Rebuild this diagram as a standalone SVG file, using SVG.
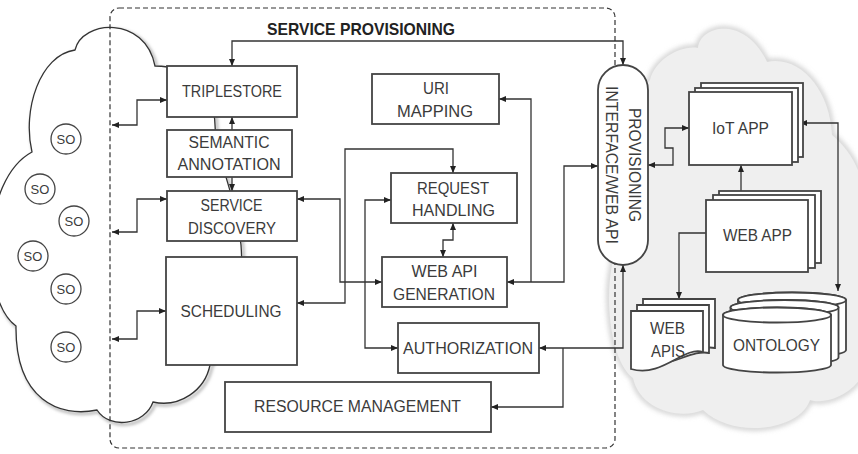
<svg xmlns="http://www.w3.org/2000/svg" width="858" height="454" viewBox="0 0 858 454">
<defs>
<style>
.t{font-family:"Liberation Sans",Arial,sans-serif;font-size:16px;fill:#3b3b3b;text-anchor:middle}
.so{font-family:"Liberation Sans",Arial,sans-serif;font-size:13px;fill:#3b3b3b;text-anchor:middle}
.box{fill:#fff;stroke:#444;stroke-width:1.8}
.c{fill:none;stroke:#333;stroke-width:1.3}
.b{marker-start:url(#ah);marker-end:url(#ah)}
.e{marker-end:url(#ah)}
.s{marker-start:url(#ah)}
</style>
<marker id="ah" markerUnits="userSpaceOnUse" markerWidth="8" markerHeight="7" refX="7" refY="3" orient="auto-start-reverse"><path d="M0,0 L7,3 L0,6 z" fill="#222"/></marker>
<filter id="blur" x="-10%" y="-10%" width="120%" height="120%"><feGaussianBlur stdDeviation="2.5"/></filter>
<filter id="sh" x="-10%" y="-10%" width="120%" height="120%"><feGaussianBlur stdDeviation="1.5"/></filter>
</defs>

<g id="right-cloud">
<path d="M650 80 C655 60 680 45 698 48 C700 25 745 15 767 62 C800 55 830 90 832 135 C850 150 862 170 865 200 L865 370 C855 395 825 405 810 400 C800 430 735 440 703 410 C680 420 640 410 633 378 C610 360 605 300 612 265 C615 180 630 100 650 80 Z" fill="none" stroke="#cfcfcf" stroke-width="5" filter="url(#blur)"/>
<path d="M650 80 C655 60 680 45 698 48 C700 25 745 15 767 62 C800 55 830 90 832 135 C850 150 862 170 865 200 L865 370 C855 395 825 405 810 400 C800 430 735 440 703 410 C680 420 640 410 633 378 C610 360 605 300 612 265 C615 180 630 100 650 80 Z" fill="#efefef"/>
</g>

<g id="left-cloud">
<path d="M210 365 C205 390 180 408 153 402 C145 425 110 430 97 410 C60 418 15 400 16 326 C-20 300 -20 180 32 152 C22 110 40 55 75 50 C82 20 145 15 155 66 C190 66 214 90 215 125 C216 160 235 190 241 245 C245 300 230 340 210 365 Z" fill="none" stroke="#bbb" stroke-width="3" filter="url(#sh)" transform="translate(2,2)"/>
<path d="M210 365 C205 390 180 408 153 402 C145 425 110 430 97 410 C60 418 15 400 16 326 C-20 300 -20 180 32 152 C22 110 40 55 75 50 C82 20 145 15 155 66 C190 66 214 90 215 125 C216 160 235 190 241 245 C245 300 230 340 210 365 Z" fill="#fff" stroke="#333" stroke-width="1.3"/>
<g id="so-objects" fill="#fff" stroke="#444" stroke-width="1.3">
<circle cx="66" cy="139" r="15"/>
<circle cx="40" cy="189" r="15"/>
<circle cx="74" cy="221" r="15"/>
<circle cx="33" cy="256" r="15"/>
<circle cx="66" cy="289" r="15"/>
<circle cx="66" cy="347" r="15"/>
</g>
<g id="so-labels">
<text class="so" x="66" y="143.7">SO</text>
<text class="so" x="40" y="193.7">SO</text>
<text class="so" x="74" y="225.7">SO</text>
<text class="so" x="33" y="260.7">SO</text>
<text class="so" x="66" y="293.7">SO</text>
<text class="so" x="66" y="351.7">SO</text>
</g>
</g>

<g id="service-provisioning">
<rect x="110" y="8" width="505" height="440" rx="9" fill="none" stroke="#333" stroke-width="1.2" stroke-dasharray="5,3"/>
<text x="361" y="35" font-family="'Liberation Sans',Arial,sans-serif" font-size="17" font-weight="bold" fill="#222" text-anchor="middle" textLength="188" lengthAdjust="spacingAndGlyphs">SERVICE PROVISIONING</text>
</g>

<g id="connectors">
<path class="c b" d="M232 66 V41 H623 V65"/>
<path class="c b" d="M112 125 H137 V100 H167"/>
<path class="c b" d="M112 232 H137 V199 H167"/>
<path class="c b" d="M112 339 H137 V311 H166"/>
<path class="c e" d="M232 130 V117"/>
<path class="c e" d="M232 177 V191"/>
<path class="c b" d="M297 199 H340 V282 H382"/>
<path class="c b" d="M297 303 H345 V149 H453 V173"/>
<path class="c b" d="M391 200 H365 V348 H398"/>
<path class="c b" d="M453 223 V240 H443 V257"/>
<path class="c s" d="M499 99 H531 V282"/>
<path class="c b" d="M507 282 H564 V166 H598"/>
<path class="c b" d="M539 348 H623 V265"/>
<path class="c s" d="M491 407 H563 V348"/>
<path class="c b" d="M648 165 H673 V148 H665 V128 H689"/>
<path class="c b" d="M800 123 H838 V291"/>
<path class="c e" d="M741 191 V165"/>
<path class="c e" d="M706 233 H679 V299"/>
</g>

<g id="triplestore">
<rect class="box" x="167" y="66" width="130" height="51"/>
<text class="t" x="232" y="96.7" textLength="100" lengthAdjust="spacingAndGlyphs">TRIPLESTORE</text>
</g>
<g id="semantic-annotation">
<rect class="box" x="167" y="130" width="125" height="47"/>
<text class="t" x="229" y="148.2" textLength="81" lengthAdjust="spacingAndGlyphs">SEMANTIC</text>
<text class="t" x="229" y="170.4" textLength="103" lengthAdjust="spacingAndGlyphs">ANNOTATION</text>
</g>
<g id="service-discovery">
<rect class="box" x="167" y="191" width="130" height="50"/>
<text class="t" x="231.5" y="211.4" textLength="62" lengthAdjust="spacingAndGlyphs">SERVICE</text>
<text class="t" x="232" y="233.7" textLength="88" lengthAdjust="spacingAndGlyphs">DISCOVERY</text>
</g>
<g id="scheduling">
<rect class="box" x="166" y="257" width="131" height="108"/>
<text class="t" x="231" y="317.2" textLength="101" lengthAdjust="spacingAndGlyphs">SCHEDULING</text>
</g>
<g id="uri-mapping">
<rect class="box" x="372" y="74" width="127" height="50"/>
<text class="t" x="436" y="93.7" textLength="26" lengthAdjust="spacingAndGlyphs">URI</text>
<text class="t" x="435" y="117.4" textLength="76" lengthAdjust="spacingAndGlyphs">MAPPING</text>
</g>
<g id="request-handling">
<rect class="box" x="391" y="173" width="126" height="50"/>
<text class="t" x="453" y="193.7" textLength="72" lengthAdjust="spacingAndGlyphs">REQUEST</text>
<text class="t" x="453.5" y="216.4" textLength="83" lengthAdjust="spacingAndGlyphs">HANDLING</text>
</g>
<g id="web-api-generation">
<rect class="box" x="382" y="257" width="125" height="50"/>
<text class="t" x="444.5" y="276.7" textLength="66" lengthAdjust="spacingAndGlyphs">WEB API</text>
<text class="t" x="444" y="300.2" textLength="102" lengthAdjust="spacingAndGlyphs">GENERATION</text>
</g>
<g id="authorization">
<rect class="box" x="398" y="323" width="141" height="50"/>
<text class="t" x="468" y="353.7" textLength="130" lengthAdjust="spacingAndGlyphs">AUTHORIZATION</text>
</g>
<g id="resource-management">
<rect class="box" x="225" y="382" width="266" height="50"/>
<text class="t" x="357.5" y="412.2" textLength="207" lengthAdjust="spacingAndGlyphs">RESOURCE MANAGEMENT</text>
</g>
<g id="provisioning-interface">
<rect class="box" x="598" y="65" width="50" height="200" rx="25"/>
<g transform="translate(623,165) rotate(90)">
<text class="t" x="0" y="-6.3" textLength="114" lengthAdjust="spacingAndGlyphs">PROVISIONING</text>
<text class="t" x="0" y="17.2" textLength="158" lengthAdjust="spacingAndGlyphs">INTERFACE/WEB API</text>
</g>
</g>
<g id="iot-app">
<rect class="box" x="701" y="83" width="102" height="74"/>
<rect class="box" x="695" y="88" width="103" height="74"/>
<rect class="box" x="689" y="92" width="103" height="73"/>
<text class="t" x="740.5" y="133.7" textLength="57" lengthAdjust="spacingAndGlyphs">IoT APP</text>
</g>
<g id="web-app">
<rect class="box" x="719" y="191" width="102" height="72"/>
<rect class="box" x="713" y="195" width="102" height="73"/>
<rect class="box" x="706" y="200" width="102" height="72"/>
<text class="t" x="757.5" y="240.7" textLength="69" lengthAdjust="spacingAndGlyphs">WEB APP</text>
</g>
<g id="web-apis">
<path class="box" d="M643 299 H715 V348 C696 344 676 364 643 358 Z"/>
<path class="box" d="M637 305 H709 V353 C690 349 670 370 637 364 Z"/>
<path class="box" d="M631 311 H703 V352 C683 346 663 378 631 369 Z"/>
<text class="t" x="667.5" y="334" textLength="35" lengthAdjust="spacingAndGlyphs">WEB</text>
<text class="t" x="668" y="357.4" textLength="34" lengthAdjust="spacingAndGlyphs">APIS</text>
</g>
<g id="ontology">
<path class="box" d="M738 300 V350 A54 7.5 0 0 0 846 350 V300 A54 7.5 0 0 0 738 300 Z"/>
<ellipse class="box" cx="792" cy="300" rx="54" ry="7.5"/>
<path class="box" d="M730.5 307.5 V357.5 A54 7.5 0 0 0 838.5 357.5 V307.5 A54 7.5 0 0 0 730.5 307.5 Z"/>
<ellipse class="box" cx="784.5" cy="307.5" rx="54" ry="7.5"/>
<path class="box" d="M723 315 V365 A54 7.5 0 0 0 831 365 V315 A54 7.5 0 0 0 723 315 Z"/>
<ellipse class="box" cx="777" cy="315" rx="54" ry="7.5"/>
<text class="t" x="776.5" y="350.7" textLength="87" lengthAdjust="spacingAndGlyphs">ONTOLOGY</text>
</g>
</svg>
